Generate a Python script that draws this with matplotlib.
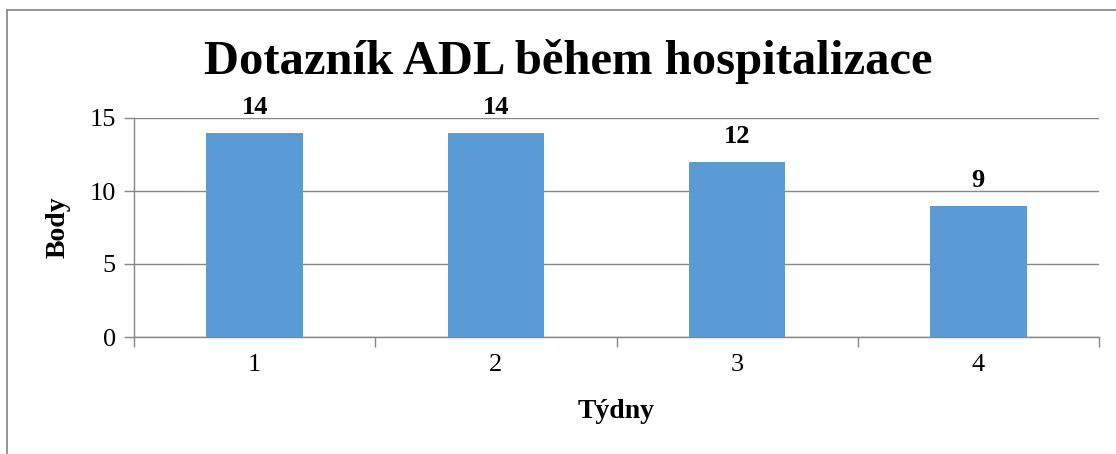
import matplotlib
matplotlib.use("Agg")
import matplotlib.pyplot as plt
from matplotlib.lines import Line2D

categories = ["1", "2", "3", "4"]
values = [14, 14, 12, 9]
yticks = [0, 5, 10, 15]

plt.rcParams['font.family'] = ['Liberation Serif', 'DejaVu Serif']

W, H = 1116, 454
fig = plt.figure(figsize=(W / 100, H / 100), dpi=100)
# outer frame: only top and left edges visible in the reference
fig.lines.append(Line2D([7 / W, 1.0], [1 - 10 / H, 1 - 10 / H], transform=fig.transFigure,
                        color="#8c8c8c", linewidth=1.3))
fig.lines.append(Line2D([7 / W, 7 / W], [0.0, 1 - 10 / H], transform=fig.transFigure,
                        color="#8c8c8c", linewidth=1.3))

left, right, top, bottom = 134, 1099, 118, 337
ax = fig.add_axes([left / W, 1 - bottom / H, (right - left) / W, (bottom - top) / H])

x = list(range(len(categories)))
ax.bar(x, values, width=0.4, color="#5B9BD5", zorder=3)
ax.set_xlim(-0.5, len(categories) - 0.5)
ax.set_ylim(0, 15)
ax.set_yticks(yticks)
ax.set_yticklabels([str(t) for t in yticks], fontsize=19)
ax.yaxis.grid(True, color="#868686", linewidth=1.0, zorder=0)

ax.set_xticks([i - 0.5 for i in range(len(categories) + 1)])
ax.set_xticklabels([])
ax.set_xticks(x, minor=True)
ax.set_xticklabels(categories, minor=True, fontsize=19)
ax.tick_params(axis='x', which='minor', length=0, pad=12)
ax.tick_params(axis='x', which='major', length=7, color="#868686", width=1)
ax.tick_params(axis='y', length=7, color="#868686", width=1, pad=6)

for s in ["top", "right"]:
    ax.spines[s].set_visible(False)
for s in ["left", "bottom"]:
    ax.spines[s].set_color("#868686")
    ax.spines[s].set_linewidth(1.0)

for xi, v in zip(x, values):
    ax.annotate(str(v), (xi, v), xytext=(0, 10), textcoords="offset points",
                ha="center", va="bottom", fontsize=19, fontweight="bold")

ax.set_ylabel("Body", fontsize=20, fontweight="bold", labelpad=14)
ax.set_xlabel("Týdny", fontsize=20, fontweight="bold", labelpad=17)
fig.text(568 / W, 1 - 62 / H, "Dotazník ADL během hospitalizace", ha="center", va="center",
         fontsize=35, fontweight="bold")

fig.savefig("out.png", dpi=100)
